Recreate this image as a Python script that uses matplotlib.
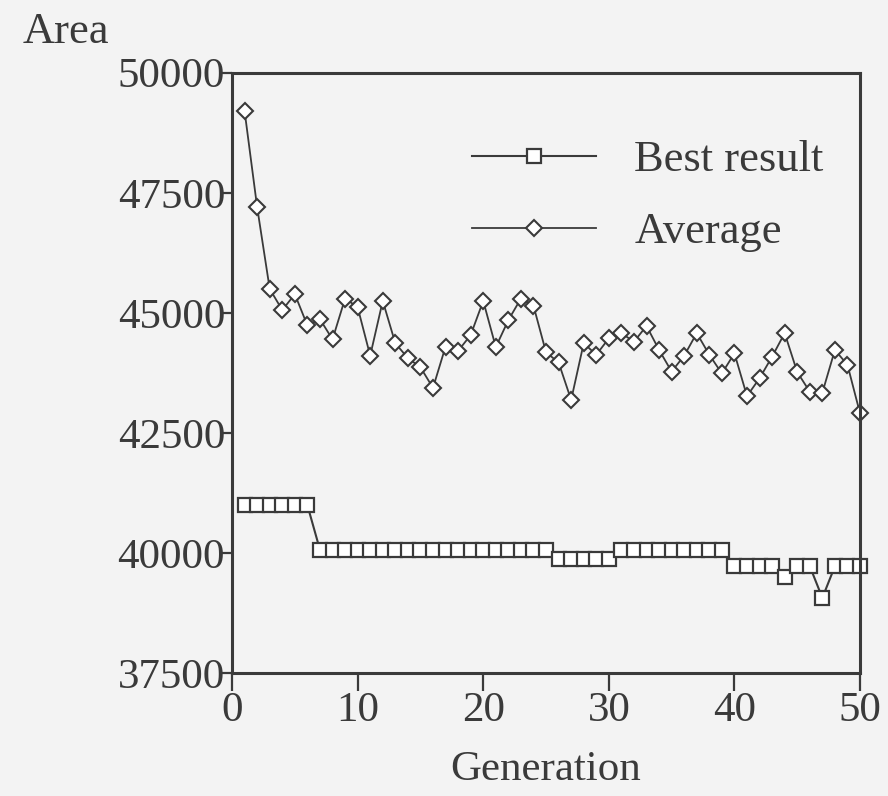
import numpy as np
import matplotlib as mpl
import matplotlib.pyplot as plt

mpl.rcParams['font.family'] = 'serif'
mpl.rcParams['font.serif'] = ['Liberation Serif', 'DejaVu Serif']

# data
generation = np.arange(1, 51)

best = [41000] * 6 + [40070] * 19 + [39880] * 5 + [40070] * 9 + \
       [39730] * 4 + [39500] + [39730] * 2 + [39070] + [39730] * 3

average = [49200, 47200, 45500, 45060, 45390, 44740, 44870, 44450, 45300, 45120,
           44110, 45250, 44370, 44060, 43870, 43440, 44300, 44210, 44540, 45250,
           44290, 44850, 45300, 45150, 44180, 43970, 43190, 44370, 44130, 44470,
           44580, 44400, 44730, 44230, 43780, 44110, 44580, 44130, 43740, 44160,
           43270, 43640, 44090, 44580, 43770, 43360, 43340, 44230, 43920, 42910]

yticks = [37500, 40000, 42500, 45000, 47500, 50000]
xticks = [0, 10, 20, 30, 40, 50]

bg = '#f3f3f3'
ink = '#3a3a3a'

fig = plt.figure(figsize=(8.88, 7.96), dpi=100, facecolor=bg)
ax = fig.add_axes([0.2613, 0.1541, 0.7072, 0.7546], facecolor=bg)

ax.plot(generation, best, '-', color=ink, lw=1.5, marker='s', ms=10,
        mfc='white', mec=ink, mew=1.6, label='Best result', clip_on=False)
ax.plot(generation, average, '-', color=ink, lw=1.3, marker='D', ms=7.9,
        mfc='white', mec=ink, mew=1.5, label='Average', clip_on=False)

ax.set_xlim(0, 50)
ax.set_ylim(37500, 50000)
ax.set_xticks(xticks)
ax.set_yticks(yticks)

for s in ax.spines.values():
    s.set_linewidth(2.2)
    s.set_color(ink)

ax.tick_params(axis='y', direction='out', length=8, width=1.6, color=ink,
               labelsize=31, labelcolor=ink, pad=-3)
ax.tick_params(axis='x', direction='out', length=13, width=1.6, color=ink,
               labelsize=31, labelcolor=ink, pad=0)

ax.set_xlabel('Generation', fontsize=31, color=ink, labelpad=15)
fig.text(23 / 888, 1 - 43 / 796, 'Area', fontsize=32, color=ink, va='baseline')

leg = ax.legend(loc='upper left', bbox_to_anchor=(0.382, 0.888), frameon=False,
                fontsize=32, handlelength=2.8, handletextpad=0.85,
                labelspacing=0.72, borderpad=0, borderaxespad=0)
for t in leg.get_texts():
    t.set_color(ink)

fig.savefig('out.png', dpi=100, facecolor=bg)
